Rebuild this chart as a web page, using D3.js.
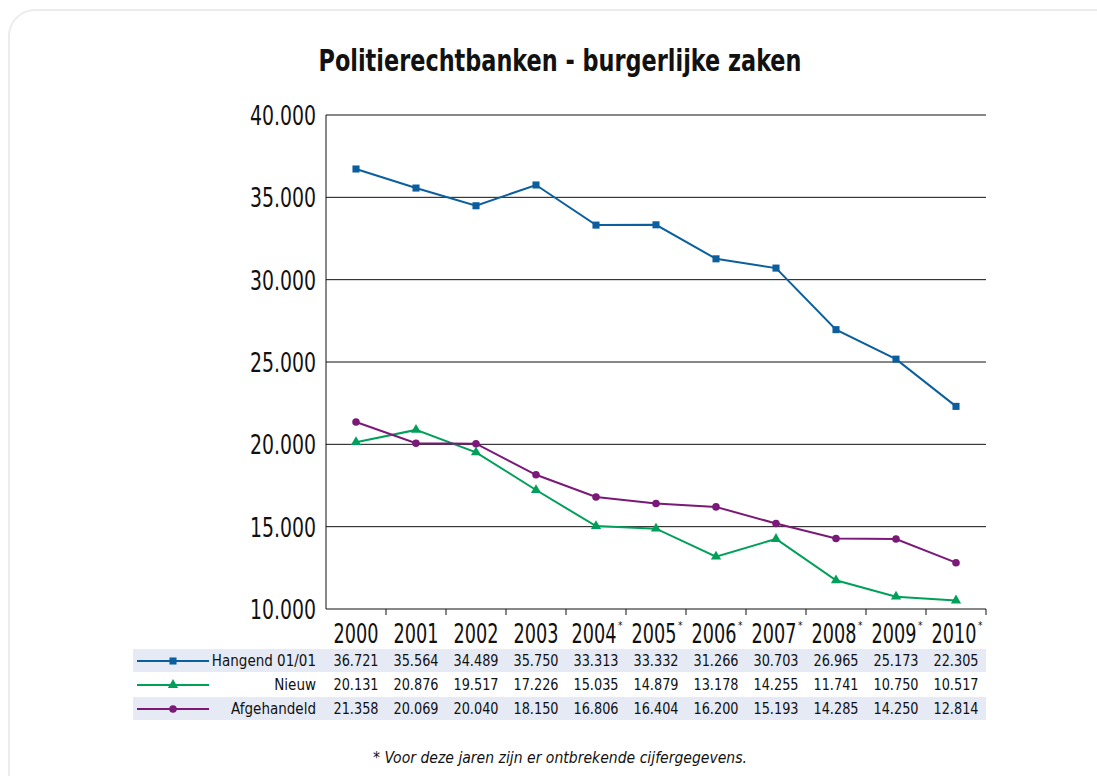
<!DOCTYPE html>
<html>
<head>
<meta charset="utf-8">
<script src="https://cdn.jsdelivr.net/npm/d3@7"></script>
<style>
body { margin: 0; background: #fff; }
svg text { font-family: "DejaVu Sans", sans-serif; font-stretch: condensed; fill: #111; }
</style>
</head>
<body>
<div id="chart"></div>
<script>
var years = ["2000", "2001", "2002", "2003", "2004", "2005", "2006", "2007", "2008", "2009", "2010"];
var starred = [false, false, false, false, true, true, true, true, true, true, true];
var hangend = [36721, 35564, 34489, 35750, 33313, 33332, 31266, 30703, 26965, 25173, 22305];
var nieuw = [20131, 20876, 19517, 17226, 15035, 14879, 13178, 14255, 11741, 10750, 10517];
var afgehandeld = [21358, 20069, 20040, 18150, 16806, 16404, 16200, 15193, 14285, 14250, 12814];
var seriesNames = ["Hangend 01/01", "Nieuw", "Afgehandeld"];
var yTicks = [10000, 15000, 20000, 25000, 30000, 35000, 40000];

var outerW = 1097, outerH = 776;
var margin = {top: 115, left: 326, right: 111, bottom: 167};
var width = outerW - margin.left - margin.right,
	height = outerH - margin.top - margin.bottom;

var fmt = function(v) { return d3.format(",")(v).replace(/,/g, "."); };

var svg = d3.select("#chart")
	.append("svg")
	.attr("width", outerW)
	.attr("height", outerH);

// frame
svg.append("rect")
	.attr("x", 9).attr("y", 10)
	.attr("width", 1120).attr("height", 800)
	.attr("rx", 26).attr("ry", 26)
	.attr("fill", "none")
	.attr("stroke", "#ececec")
	.attr("stroke-width", 2);

svg.append("text")
	.attr("x", 560).attr("y", 71)
	.attr("text-anchor", "middle")
	.attr("textLength", 483)
	.attr("lengthAdjust", "spacingAndGlyphs")
	.style("font-size", "30px")
	.style("font-weight", "bold")
	.text("Politierechtbanken - burgerlijke zaken");

var g = svg.append("g")
	.attr("transform", "translate(" + margin.left + "," + margin.top + ")");

var x = d3.scaleBand().domain(years).range([0, width]);
var y = d3.scaleLinear().domain([10000, 40000]).range([height, 0]);

// gridlines
g.selectAll(".grid")
	.data(yTicks)
	.enter().append("line")
	.attr("x1", 0).attr("x2", width)
	.attr("y1", d => y(d)).attr("y2", d => y(d))
	.attr("stroke", "#111")
	.attr("stroke-width", 1);

// y axis line
g.append("line")
	.attr("x1", 0).attr("x2", 0)
	.attr("y1", 0).attr("y2", height)
	.attr("stroke", "#111");

// y labels
g.selectAll(".ylab")
	.data(yTicks)
	.enter().append("text")
	.attr("x", -10)
	.attr("y", d => y(d) + 10)
	.attr("text-anchor", "end")
	.attr("textLength", 66)
	.attr("lengthAdjust", "spacingAndGlyphs")
	.style("font-size", "27px")
	.text(d => fmt(d));

// x tick marks between bands
g.selectAll(".xtick")
	.data(years.slice(1).concat(["end"]))
	.enter().append("line")
	.attr("x1", (d, i) => (i + 1) * x.bandwidth())
	.attr("x2", (d, i) => (i + 1) * x.bandwidth())
	.attr("y1", height).attr("y2", height + 6)
	.attr("stroke", "#111");

// year labels
g.selectAll(".xlab")
	.data(years)
	.enter().append("text")
	.attr("x", (d, i) => x(d) + x.bandwidth() / 2 + (starred[i] ? -2 : 0))
	.attr("y", height + 34)
	.attr("text-anchor", "middle")
	.attr("textLength", 45)
	.attr("lengthAdjust", "spacingAndGlyphs")
	.style("font-size", "27px")
	.text(d => d);
g.selectAll(".star")
	.data(years.filter((d, i) => starred[i]))
	.enter().append("text")
	.attr("x", d => x(d) + x.bandwidth() / 2 + 22)
	.attr("y", height + 20)
	.style("font-size", "10px")
	.text("*");

var series = [
	{name: seriesNames[0], values: hangend, color: "#0b5f9e", symbol: d3.symbolSquare, size: 50},
	{name: seriesNames[1], values: nieuw, color: "#00a05a", symbol: d3.symbolTriangle, size: 45},
	{name: seriesNames[2], values: afgehandeld, color: "#7a1977", symbol: d3.symbolCircle, size: 45}
];

var line = d3.line()
	.x((d, i) => x(years[i]) + x.bandwidth() / 2)
	.y(d => y(d));

series.forEach(function(s) {
	g.append("path")
		.attr("d", line(s.values))
		.attr("fill", "none")
		.attr("stroke", s.color)
		.attr("stroke-width", 2);
	g.selectAll(null)
		.data(s.values)
		.enter().append("path")
		.attr("d", d3.symbol().type(s.symbol).size(s.size))
		.attr("transform", (d, i) => "translate(" + (x(years[i]) + x.bandwidth() / 2) + "," + y(d) + ")")
		.attr("fill", s.color);
});

// data table
var rowH = 24, tableTop = height + 40;
series.forEach(function(s, r) {
	var ry = tableTop + r * rowH;
	if (r !== 1) {
		g.append("rect")
			.attr("x", 133 - margin.left).attr("y", ry)
			.attr("width", width + margin.left - 133).attr("height", rowH - 1)
			.attr("fill", "#e5eaf4");
	}
	g.append("line")
		.attr("x1", 137 - margin.left).attr("x2", 209 - margin.left)
		.attr("y1", ry + 12).attr("y2", ry + 12)
		.attr("stroke", s.color).attr("stroke-width", 2);
	g.append("path")
		.attr("d", d3.symbol().type(s.symbol).size(s.size))
		.attr("transform", "translate(" + (173 - margin.left) + "," + (ry + 12) + ")")
		.attr("fill", s.color);
	g.append("text")
		.attr("x", -10).attr("y", ry + 17)
		.attr("text-anchor", "end")
		.style("font-size", "15px")
		.text(s.name);
	g.selectAll(null)
		.data(s.values)
		.enter().append("text")
		.attr("x", (d, i) => x(years[i]) + x.bandwidth() / 2)
		.attr("y", ry + 17)
		.attr("text-anchor", "middle")
		.attr("textLength", 45)
		.attr("lengthAdjust", "spacingAndGlyphs")
		.style("font-size", "16px")
		.text(d => fmt(d));
});

svg.append("text")
	.attr("x", 560).attr("y", 763)
	.attr("text-anchor", "middle")
	.attr("textLength", 374)
	.attr("lengthAdjust", "spacingAndGlyphs")
	.style("font-size", "15px")
	.style("font-style", "italic")
	.text("* Voor deze jaren zijn er ontbrekende cijfergegevens.");
</script>
</body>
</html>
